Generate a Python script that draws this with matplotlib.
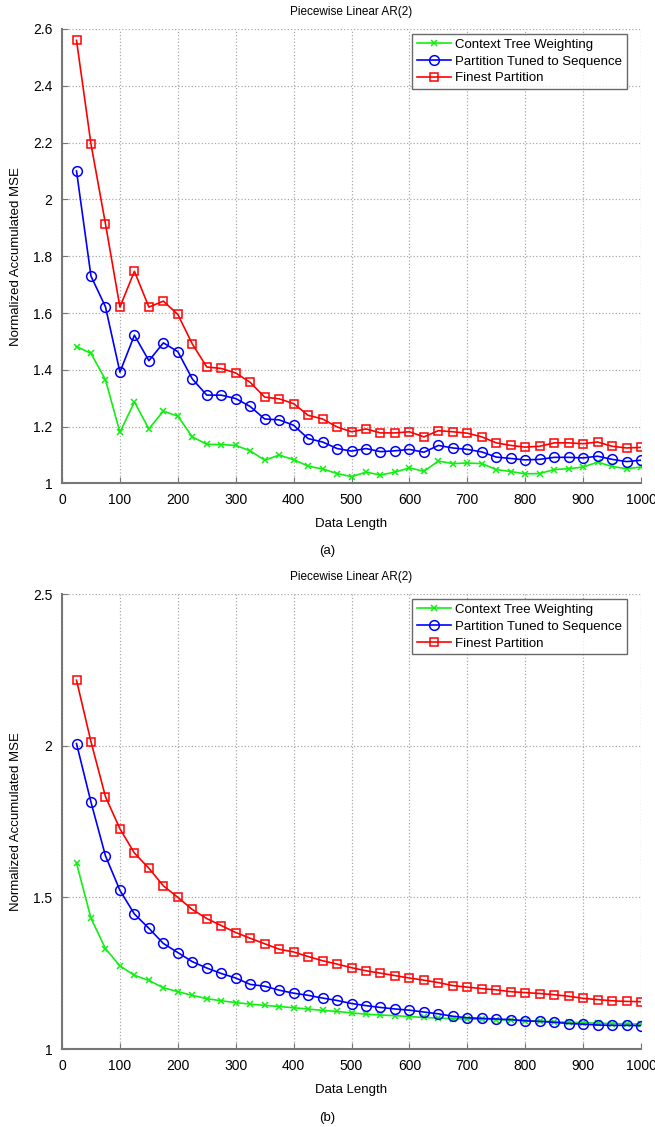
import numpy as np
import matplotlib
matplotlib.use('Agg')
import matplotlib.pyplot as plt

plt.rcParams['font.family'] = ['Liberation Sans', 'DejaVu Sans']

x = np.arange(25, 1001, 25)

# (a) piecewise linear AR(2), single run
ctw_a = [1.482, 1.458, 1.365, 1.180, 1.287, 1.192, 1.255, 1.237, 1.164, 1.138,
         1.137, 1.134, 1.115, 1.082, 1.100, 1.084, 1.061, 1.051, 1.035, 1.024,
         1.040, 1.030, 1.040, 1.055, 1.043, 1.079, 1.070, 1.072, 1.070, 1.049,
         1.042, 1.034, 1.035, 1.049, 1.052, 1.058, 1.075, 1.060, 1.052, 1.058]
tuned_a = [2.100, 1.730, 1.622, 1.392, 1.522, 1.432, 1.495, 1.464, 1.368, 1.311,
           1.311, 1.299, 1.271, 1.227, 1.224, 1.205, 1.158, 1.146, 1.123, 1.114,
           1.123, 1.112, 1.115, 1.120, 1.110, 1.134, 1.125, 1.120, 1.111, 1.093,
           1.088, 1.083, 1.085, 1.092, 1.092, 1.090, 1.096, 1.085, 1.077, 1.082]
finest_a = [2.560, 2.195, 1.914, 1.621, 1.747, 1.621, 1.642, 1.595, 1.491, 1.410,
            1.405, 1.389, 1.356, 1.304, 1.298, 1.281, 1.240, 1.227, 1.199, 1.182,
            1.192, 1.178, 1.178, 1.182, 1.164, 1.186, 1.182, 1.177, 1.164, 1.143,
            1.134, 1.128, 1.131, 1.143, 1.143, 1.140, 1.146, 1.131, 1.125, 1.127]

# (b) averaged curves
ctw_b = [1.613, 1.431, 1.331, 1.274, 1.243, 1.226, 1.202, 1.189, 1.177, 1.166,
         1.159, 1.153, 1.148, 1.144, 1.140, 1.136, 1.132, 1.127, 1.124, 1.119,
         1.115, 1.112, 1.110, 1.107, 1.104, 1.102, 1.100, 1.099, 1.098, 1.097,
         1.095, 1.094, 1.092, 1.090, 1.088, 1.087, 1.085, 1.084, 1.083, 1.082]
tuned_b = [2.007, 1.814, 1.637, 1.523, 1.445, 1.398, 1.348, 1.318, 1.288, 1.267,
           1.249, 1.234, 1.213, 1.207, 1.194, 1.184, 1.177, 1.168, 1.160, 1.150,
           1.143, 1.137, 1.132, 1.128, 1.122, 1.116, 1.108, 1.103, 1.101, 1.099,
           1.097, 1.093, 1.091, 1.088, 1.084, 1.082, 1.079, 1.078, 1.078, 1.077]
finest_b = [2.216, 2.013, 1.832, 1.726, 1.646, 1.596, 1.538, 1.500, 1.460, 1.430,
            1.407, 1.384, 1.365, 1.347, 1.329, 1.320, 1.305, 1.291, 1.280, 1.268,
            1.258, 1.250, 1.242, 1.234, 1.227, 1.219, 1.209, 1.204, 1.199, 1.195,
            1.189, 1.186, 1.183, 1.179, 1.174, 1.167, 1.163, 1.159, 1.157, 1.156]

labels = ['Context Tree Weighting', 'Partition Tuned to Sequence', 'Finest Partition']

fig = plt.figure(figsize=(6.55, 11.27), dpi=100)
ax1 = fig.add_axes([0.0947, 0.571, 0.884, 0.4033])
ax2 = fig.add_axes([0.0947, 0.0692, 0.884, 0.4037])


def draw(ax, g, b, r, yticks, ylim, ticklabels):
    ax.plot(x, g, color='#11ee11', marker='x', label=labels[0], linewidth=1.2,
            markersize=4.5, markeredgewidth=1.1)
    ax.plot(x, b, color='#0000ff', marker='o', label=labels[1], linewidth=1.2,
            markersize=7, markerfacecolor='none', markeredgewidth=1.1)
    ax.plot(x, r, color='#ff0000', marker='s', label=labels[2], linewidth=1.2,
            markersize=5.8, markerfacecolor='none', markeredgewidth=1.1)
    ax.set_xlim(0, 1000)
    ax.set_ylim(*ylim)
    ax.set_xticks(np.arange(0, 1001, 100))
    ax.set_yticks(yticks)
    ax.set_yticklabels(ticklabels)
    ax.tick_params(direction='in', color='#777777', labelsize=10, length=4, pad=7)
    ax.grid(True, linestyle=':', color='#aaaaaa', linewidth=0.9)
    for s in ['top', 'right']:
        ax.spines[s].set_visible(False)
    for s in ['left', 'bottom']:
        ax.spines[s].set_color('#777777')
        ax.spines[s].set_linewidth(1.5)
    ax.set_title('Piecewise Linear AR(2)', fontsize=8.5, pad=10)
    ax.set_xlabel('Data Length', fontsize=9.5, labelpad=8)
    ax.set_ylabel('Normalized Accumulated MSE', fontsize=9.5, labelpad=8)
    leg = ax.legend(loc='upper right', fontsize=9.5, fancybox=False,
                    bbox_to_anchor=(0.98, 0.995), borderpad=0.35,
                    labelspacing=0.35, handlelength=2.6, handletextpad=0.3,
                    borderaxespad=0.2)
    leg.get_frame().set_edgecolor('#444444')
    leg.get_frame().set_linewidth(1.0)


draw(ax1, ctw_a, tuned_a, finest_a, np.arange(1.0, 2.61, 0.2), (1.0, 2.6),
     ['1', '1.2', '1.4', '1.6', '1.8', '2', '2.2', '2.4', '2.6'])
draw(ax2, ctw_b, tuned_b, finest_b, [1.0, 1.5, 2.0, 2.5], (1.0, 2.5),
     ['1', '1.5', '2', '2.5'])

fig.text(0.5, 1 - 551 / 1127, '(a)', ha='center', va='center', fontsize=9.5)
fig.text(0.5, 1 - 1118 / 1127, '(b)', ha='center', va='center', fontsize=9.5)

fig.savefig('out.png', dpi=100)
